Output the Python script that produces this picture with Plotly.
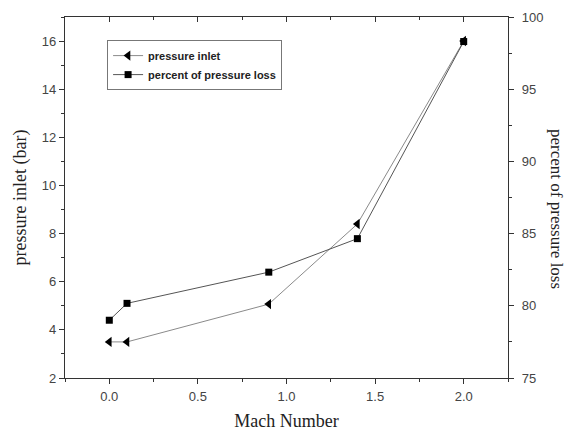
import plotly.graph_objects as go

mach = [0.0, 0.1, 0.9, 1.4, 2.0]
pressure_inlet = [3.5, 3.5, 5.07, 8.4, 16.0]
percent_loss = [79.0, 80.17, 82.33, 84.65, 98.3]

tick_font = dict(family="Liberation Sans, Arial", size=13, color="#444")
title_font = dict(family="Liberation Serif, Times New Roman", size=18, color="#222")
right_title_font = dict(family="Liberation Serif, Times New Roman", size=17, color="#222")

fig = go.Figure()
fig.add_trace(go.Scatter(
    x=mach, y=pressure_inlet, name="pressure inlet", mode="lines+markers",
    line=dict(color="#8a8a8a", width=1),
    marker=dict(symbol="triangle-left", size=9, color="black"),
    xaxis="x", yaxis="y"))
fig.add_trace(go.Scatter(
    x=mach, y=percent_loss, name="percent of pressure loss", mode="lines+markers",
    line=dict(color="#555", width=1),
    marker=dict(symbol="square", size=7, color="black"),
    xaxis="x2", yaxis="y2"))

axis_common = dict(showline=True, linecolor="#333", linewidth=1.2, showgrid=False,
                   zeroline=False, tickcolor="#333", ticklen=5, tickwidth=1,
                   automargin=False)

fig.update_layout(
    width=569, height=431,
    margin=dict(l=65, r=61, t=17, b=53),
    paper_bgcolor="white", plot_bgcolor="white",
    showlegend=True,
    legend=dict(x=0.095, y=0.936, xanchor="left", yanchor="top",
                bgcolor="white", bordercolor="#777", borderwidth=1,
                font=dict(family="Liberation Sans, Arial", size=11, color="#222", weight="bold"),
                itemwidth=30, tracegroupgap=0),
    xaxis=dict(range=[-0.25, 2.25], ticks="outside", dtick=0.5, tick0=0,
               tickformat=".1f", tickfont=tick_font, ticklabelstandoff=1,
               minor=dict(ticks="outside", dtick=0.25, tick0=0, ticklen=3, tickcolor="#333"),
               title=dict(text="Mach Number", font=title_font, standoff=15),
               **axis_common),
    xaxis2=dict(range=[-0.25, 2.25], overlaying="x", side="top", anchor="y2",
                ticks="inside", dtick=0.5, tick0=0, showticklabels=False,
                minor=dict(ticks="inside", dtick=0.25, tick0=0, ticklen=3, tickcolor="#333"),
                **axis_common),
    yaxis=dict(range=[2, 17], ticks="outside", dtick=2, tick0=0, tickfont=tick_font,
               minor=dict(ticks="outside", dtick=1, ticklen=3, tickcolor="#333"),
               title=dict(text="pressure inlet (bar)", font=title_font, standoff=10),
               **axis_common),
    yaxis2=dict(range=[75, 100], overlaying="y", side="right", anchor="x2",
                ticks="outside", dtick=5, tick0=75, tickfont=tick_font, ticklabelstandoff=5,
                minor=dict(ticks="outside", dtick=2.5, ticklen=3, tickcolor="#333"),
                **axis_common),
    annotations=[dict(text="percent of pressure loss", textangle=90,
                      xref="paper", yref="paper", x=1.0, xshift=49, y=0.468,
                      xanchor="center", yanchor="middle",
                      showarrow=False, font=right_title_font)],
)

fig.write_html("out.html")
